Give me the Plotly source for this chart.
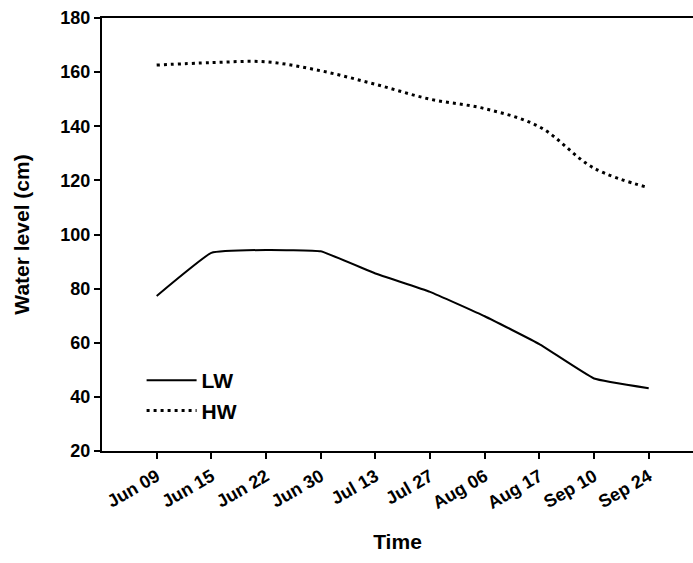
import plotly.graph_objects as go

dates = ["Jun 09", "Jun 15", "Jun 22", "Jun 30", "Jul 13", "Jul 27",
         "Aug 06", "Aug 17", "Sep 10", "Sep 24"]
lw = [77.3, 93.2, 94.3, 93.8, 85.6, 78.8, 69.8, 59.5, 46.8, 43.2]
hw = [162.6, 163.5, 163.8, 160.5, 155.5, 150.0, 146.5, 139.8, 124.5, 117.3]

FONT = "Liberation Sans, Arial, sans-serif"

fig = go.Figure()
fig.add_trace(go.Scatter(x=dates, y=lw, mode="lines", name="LW",
                         line=dict(color="black", width=2, shape="spline", smoothing=0.3)))
fig.add_trace(go.Scatter(x=dates, y=hw, mode="lines", name="HW",
                         line=dict(color="black", width=3, dash="3px,4px",
                                   shape="spline", smoothing=1)))

fig.update_layout(
    width=693, height=563,
    margin=dict(l=102, r=0, t=18, b=112),
    plot_bgcolor="white", paper_bgcolor="white",
    font=dict(family=FONT, color="black", size=15),
    showlegend=True,
    legend=dict(x=0.067, y=0.21, xanchor="left", yanchor="top",
                bgcolor="rgba(0,0,0,0)", font=dict(size=21, weight="bold"),
                tracegroupgap=0, itemwidth=50),
    xaxis=dict(type="category", categoryorder="array", categoryarray=dates,
               range=[-1, 9.81], showline=True, linecolor="black", linewidth=2,
               mirror=True, ticks="outside", ticklen=6, tickwidth=1.5, tickcolor="black",
               tickangle=-30, tickfont=dict(size=18, weight="bold"),
               showgrid=False, zeroline=False,
               title=dict(text="Time", font=dict(size=21, weight="bold"), standoff=22)),
    yaxis=dict(range=[20, 180], tickvals=[20, 40, 60, 80, 100, 120, 140, 160, 180],
               showline=True, linecolor="black", linewidth=2,
               ticks="outside", ticklen=6, tickwidth=1.5, tickcolor="black",
               tickfont=dict(size=18, weight="bold"),
               showgrid=False, zeroline=False,
               title=dict(text="Water level (cm)", font=dict(size=21, weight="bold"), standoff=25)),
)

fig.write_html("out.html")
